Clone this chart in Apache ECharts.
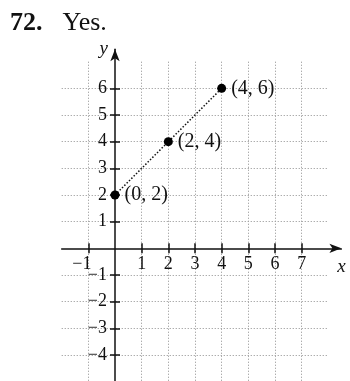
<!DOCTYPE html>
<html>
<head>
<meta charset="utf-8">
<script src="https://cdn.jsdelivr.net/npm/echarts@6/dist/echarts.min.js"></script>
<style>
  html, body { margin: 0; padding: 0; background: #fff; }
  #chart { width: 350px; height: 381px; }
</style>
</head>
<body>
<div id="chart"></div>
<script>
// Problem heading
const problemNumber = '72.';
const answerText = 'Yes.';

// Plotted points, joined by a dotted segment
const pointsX = [0, 2, 4];
const pointsY = [2, 4, 6];

// Tick values shown on each axis
const xTickValues = [-1, 1, 2, 3, 4, 5, 6, 7];
const yTickValues = [-4, -3, -2, -1, 1, 2, 3, 4, 5, 6];

// Extent of the dotted grid and of the arrowed axes
const gridX = [-2, 8];
const gridY = [-5, 7];
const axisXEnd = 8.49;
const axisYEnd = 7.47;

const SERIF = '"Liberation Serif", "DejaVu Serif", serif';
const unit = 80 / 3;                // pixels per unit on both axes
const originLeft = 61.67;           // pixel position of x = gridX[0]
const gridTop = 61.67;              // pixel position of y = gridY[1]
const tickFont = 18;
const pointFont = 20;
const nameFont = 19;

// Tick labels are laid out from the grid edge, so pull them in to the zero lines
const xLabelMargin = 7 - (0 - gridY[0]) * unit;
const yLabelMargin = 8 - (0 - gridX[0]) * unit;

const fmt = v => (v < 0 ? '\u2212' + Math.abs(v) : String(v));

const chart = echarts.init(document.getElementById('chart'), null, { renderer: 'canvas' });

const dottedGrid = { show: true, lineStyle: { color: '#a0a0a0', width: 1, type: [1.2, 1.8] } };
const tickStyle = { color: '#111', width: 1.5, opacity: 1 };

const option = {
  animation: false,
  backgroundColor: '#fff',
  title: {
    left: 10,
    top: 10,
    padding: 0,
    text: '{b|' + problemNumber + '}{r|' + answerText + '}',
    textStyle: {
      fontWeight: 'normal',
      rich: {
        b: { fontFamily: SERIF, fontSize: 26, fontWeight: 'bold', color: '#111' },
        r: { fontFamily: SERIF, fontSize: 26, fontWeight: 'normal', color: '#111', padding: [0, 0, 0, 20] }
      }
    }
  },
  grid: [
    {   // dotted grid
      left: originLeft,
      top: gridTop,
      width: (gridX[1] - gridX[0]) * unit,
      height: (gridY[1] - gridY[0]) * unit,
      containLabel: false,
      outerBoundsMode: 'none'
    },
    {   // arrowed axes
      left: originLeft,
      top: gridTop - (axisYEnd - gridY[1]) * unit,
      width: (axisXEnd - gridX[0]) * unit,
      height: (axisYEnd - gridY[0]) * unit,
      containLabel: false,
      outerBoundsMode: 'none'
    }
  ],
  xAxis: [
    {
      gridIndex: 0, type: 'value', min: gridX[0], max: gridX[1], interval: 1,
      axisLine: { show: true, onZero: true, lineStyle: { color: '#111', width: 1.5, opacity: 0 } },
      axisTick: { show: true, inside: true, length: 5, customValues: xTickValues, lineStyle: tickStyle },
      axisLabel: { show: false },
      splitLine: dottedGrid
    },
    {
      gridIndex: 1, type: 'value', min: gridX[0], max: axisXEnd,
      axisLine: {
        show: true, onZero: true,
        symbol: ['none', 'arrow'], symbolSize: [7, 12],
        lineStyle: { color: '#111', width: 1.5 }
      },
      axisTick: { show: true, inside: false, length: 5, customValues: xTickValues, lineStyle: tickStyle },
      axisLabel: {
        show: true, customValues: xTickValues, margin: xLabelMargin,
        fontFamily: SERIF, fontSize: tickFont, color: '#111',
        formatter: v => (v < 0 ? '{n|' + fmt(v) + '}' : fmt(v)),
        rich: { n: { fontFamily: SERIF, fontSize: tickFont, color: '#111', padding: [0, 13, 0, 0] } }
      },
      splitLine: { show: false },
      name: 'x', nameLocation: 'end', nameGap: 0,
      nameTextStyle: {
        fontFamily: SERIF, fontStyle: 'italic', fontSize: nameFont, color: '#111',
        align: 'center', verticalAlign: 'top', padding: [9, 0, 0, 0]
      }
    }
  ],
  yAxis: [
    {
      gridIndex: 0, type: 'value', min: gridY[0], max: gridY[1], interval: 1,
      axisLine: { show: true, onZero: true, lineStyle: { color: '#111', width: 1.5, opacity: 0 } },
      axisTick: { show: true, inside: true, length: 5, customValues: yTickValues, lineStyle: tickStyle },
      axisLabel: { show: false },
      splitLine: dottedGrid
    },
    {
      gridIndex: 1, type: 'value', min: gridY[0], max: axisYEnd,
      axisLine: {
        show: true, onZero: true,
        symbol: ['none', 'arrow'], symbolSize: [7, 12],
        lineStyle: { color: '#111', width: 1.5 }
      },
      axisTick: { show: true, inside: false, length: 5, customValues: yTickValues, lineStyle: tickStyle },
      axisLabel: {
        show: true, customValues: yTickValues, margin: yLabelMargin,
        fontFamily: SERIF, fontSize: tickFont, color: '#111',
        formatter: fmt
      },
      splitLine: { show: false },
      name: 'y', nameLocation: 'end', nameGap: 0,
      nameTextStyle: {
        fontFamily: SERIF, fontStyle: 'italic', fontSize: nameFont, color: '#111',
        align: 'right', verticalAlign: 'middle', padding: [0, 7, 0, 0]
      }
    }
  ],
  series: [
    {
      type: 'line',
      xAxisIndex: 0,
      yAxisIndex: 0,
      data: pointsX.map((x, i) => [x, pointsY[i]]),
      lineStyle: { color: '#111', width: 1.5, type: [1.5, 1.8] },
      symbol: 'circle',
      symbolSize: 9,
      itemStyle: { color: '#000' },
      z: 5,
      label: {
        show: true,
        position: 'right',
        distance: 5,
        fontFamily: SERIF,
        fontSize: pointFont,
        color: '#111',
        formatter: p => '(' + p.value[0] + ', ' + p.value[1] + ')'
      }
    }
  ]
};

chart.setOption(option);
</script>
</body>
</html>
